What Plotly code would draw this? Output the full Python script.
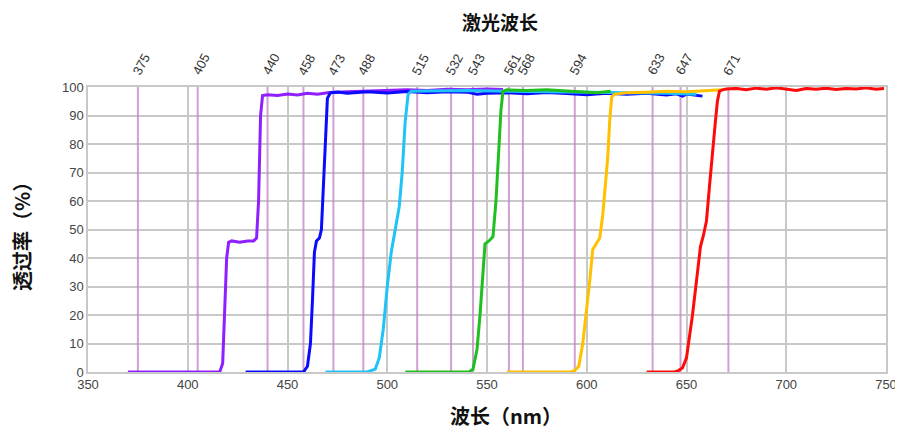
import plotly.graph_objects as go

# Laser wavelengths (nm)
laser_nm = [375, 405, 440, 458, 473, 488, 515, 532, 543, 561, 568, 594, 633, 647, 671]

# Filter transmission curves (wavelength nm, transmission %)
violet_x = [370, 416, 417.5, 418.5, 419.5, 420.5, 422, 426, 430, 433, 434.5, 435.5, 436.5, 437.5, 440, 445, 450, 455, 460, 465, 470, 480, 490, 500, 510, 520, 530, 540, 550, 558]
violet_y = [0, 0, 3, 20, 40, 45.5, 46, 45.5, 46, 46, 47, 60, 90, 97, 97.3, 97, 97.5, 97.2, 97.8, 97.5, 98, 98.3, 98.5, 98.7, 99, 98.8, 99.2, 99, 99.3, 99.1]

blue_x = [429, 458, 460, 461.5, 462.5, 463.5, 464.5, 466, 467, 468, 469, 470, 471.5, 475, 480, 490, 500, 510, 520, 530, 540, 545, 550, 560, 570, 580, 590, 600, 610, 620, 630, 640, 645, 648, 650, 655, 658]
blue_y = [0, 0, 2, 10, 25, 42, 46, 47, 50, 65, 85, 96, 98, 98.2, 97.8, 98.3, 97.9, 98.4, 98, 98.3, 98.2, 97.5, 97.8, 98, 97.6, 98.1, 97.7, 97.3, 97.8, 97.5, 97.8, 97.2, 97.6, 96.8, 97.5, 97.2, 96.8]

cyan_x = [469, 490, 494, 496, 498, 500, 502, 504, 506, 507.5, 509, 510.5, 512, 520, 540, 560, 580, 600, 620, 640, 655]
cyan_y = [0, 0, 1, 5, 15, 30, 42, 50, 58, 70, 88, 97.5, 98.5, 98.6, 98.8, 98.5, 98.4, 98.2, 98.0, 97.8, 97.5]

green_x = [509, 541, 543, 545, 546.5, 548, 549, 551, 553, 554.5, 555.5, 557, 558, 560, 570, 580, 590, 600, 605, 612]
green_y = [0, 0, 1, 8, 20, 35, 45, 46, 47.5, 60, 75, 92, 98.5, 99, 98.8, 99, 98.6, 98.2, 98, 98.5]

yellow_x = [560, 592, 594, 596, 598, 600, 601.5, 603, 605, 606.5, 608, 609, 610.5, 611.5, 612.5, 614, 620, 630, 640, 650, 660, 668]
yellow_y = [0, 0, 0.5, 2, 10, 22, 32, 43, 45.5, 47, 55, 62, 75, 88, 96.5, 97.5, 98, 98.2, 98.5, 98.3, 98.8, 99]

red_x = [630, 644, 646, 648, 650, 651.5, 653, 655, 657, 658.5, 660, 661.5, 663, 664.5, 665.5, 666.5, 668, 670, 675, 680, 685, 690, 695, 700, 705, 710, 715, 720, 725, 730, 735, 740, 745, 749]
red_y = [0, 0, 0.5, 1.5, 5, 12, 20, 32, 44, 48, 53, 65, 78, 88, 95, 98.5, 99, 99.3, 99.5, 99, 99.6, 99.2, 99.7, 99.3, 98.8, 99.5, 99.2, 99.6, 99.1, 99.5, 99.3, 99.7, 99.2, 99.5]

x_ticks = [350, 400, 450, 500, 550, 600, 650, 700, 750]
y_ticks = [0, 10, 20, 30, 40, 50, 60, 70, 80, 90, 100]

series = [
    (violet_x, violet_y, "#8f1fff"),
    (blue_x, blue_y, "#0a0aff"),
    (cyan_x, cyan_y, "#1ec3f7"),
    (green_x, green_y, "#1fbf1f"),
    (yellow_x, yellow_y, "#ffc000"),
    (red_x, red_y, "#ff0a0a"),
]

fig = go.Figure()

# laser lines as traces (below the filter curves)
for nm in laser_nm:
    fig.add_trace(go.Scatter(x=[nm, nm], y=[0, 100], mode="lines",
                             line=dict(color="rgba(196,136,200,0.8)", width=2),
                             hoverinfo="skip", showlegend=False))

for xs, ys, c in series:
    fig.add_trace(go.Scatter(x=xs, y=ys, mode="lines",
                             line=dict(color=c, width=3),
                             showlegend=False))

for nm in laser_nm:
    fig.add_annotation(x=nm, y=1, xref="x", yref="paper", text=str(nm),
                       showarrow=False, textangle=-62, xanchor="center",
                       yanchor="bottom", yshift=7, xshift=3,
                       font=dict(family="Liberation Sans, Arial", size=13, color="#333333"))

cjk = "Noto Sans CJK SC"
fig.add_annotation(x=0.516, y=1, xref="paper", yref="paper", yshift=66,
                   text="<b>激光波长</b>", showarrow=False, yanchor="middle",
                   font=dict(family=cjk, size=19, color="#111111"))
fig.add_annotation(x=0.524, y=0, xref="paper", yref="paper", yshift=-43,
                   text="<b>波长（nm）</b>", showarrow=False, yanchor="middle",
                   font=dict(family=cjk, size=20, color="#111111"))
fig.add_annotation(x=0, y=0.491, xref="paper", yref="paper", xshift=-67,
                   text="<b>透过率（%）</b>", showarrow=False, textangle=-90,
                   xanchor="center", yanchor="middle",
                   font=dict(family=cjk, size=20, color="#111111"))

fig.update_layout(
    width=895, height=422,
    margin=dict(l=80, r=17, t=79, b=58),
    paper_bgcolor="white", plot_bgcolor="white",
    font=dict(family="Liberation Sans, Arial", size=13, color="#444444"),
    xaxis=dict(range=[350, 750], tickvals=x_ticks, showgrid=True, automargin=False,
               gridcolor="#c8c8c8", gridwidth=1.5, zeroline=False,
               showline=True, linecolor="#c8c8c8", linewidth=1.5, mirror=True,
               ticks="", tickfont=dict(size=13, color="#444444")),
    yaxis=dict(range=[0, 100], tickvals=y_ticks, showgrid=True, automargin=False,
               gridcolor="#c8c8c8", gridwidth=1.5, zeroline=False,
               showline=True, linecolor="#c8c8c8", linewidth=1.5, mirror=True,
               ticks="", tickfont=dict(size=13, color="#444444")),
)

fig.write_html("out.html")
